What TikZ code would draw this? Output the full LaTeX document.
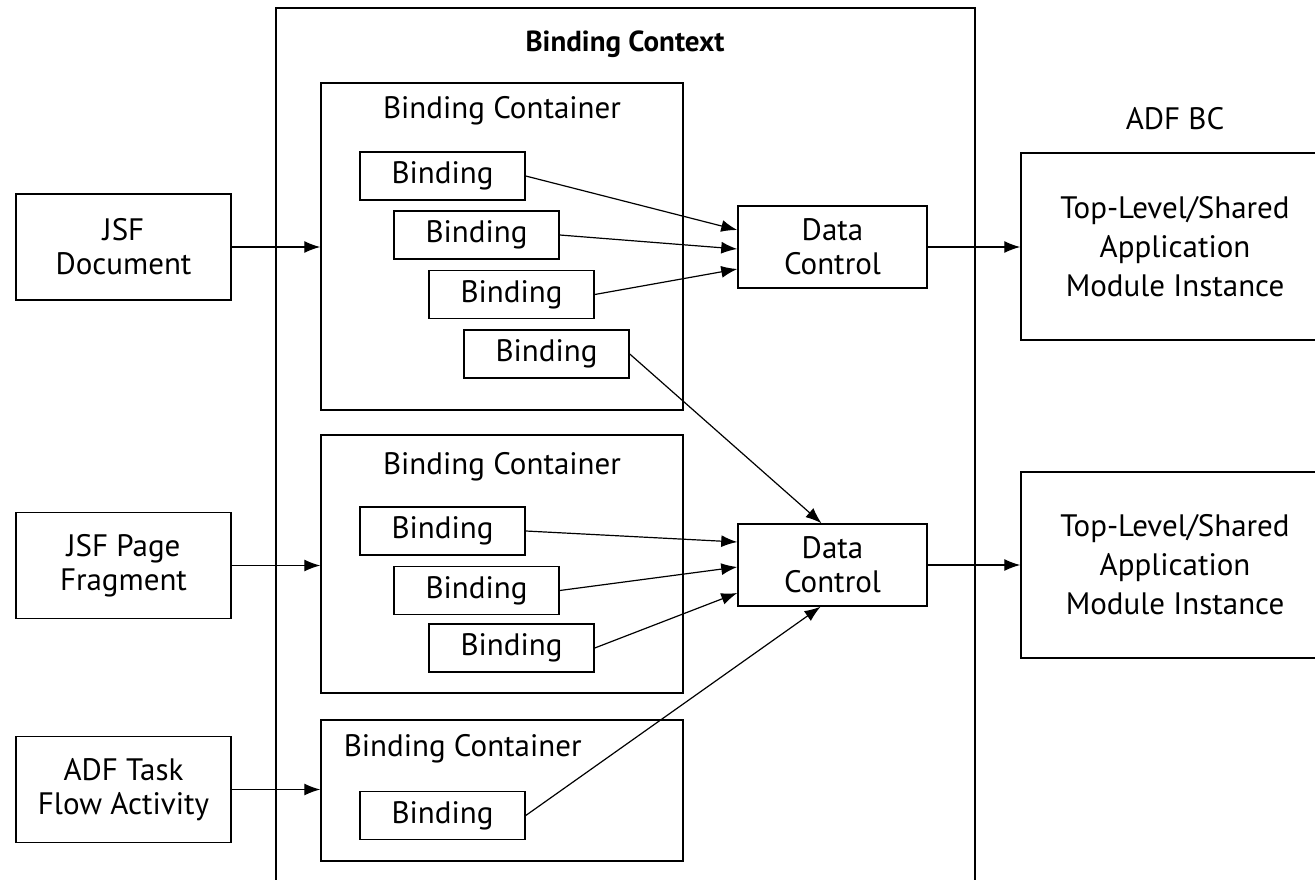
\documentclass[tikz,border=0pt]{standalone}
\usepackage{fontspec}
\setmainfont{PT Sans}
\usetikzlibrary{arrows.meta}

\begin{document}
\begin{tikzpicture}[x=1pt,y=-1pt,line width=1.5pt,
	box/.style={draw,inner sep=0pt,align=center,font=\fontsize{31}{34}\selectfont},
	container/.style={draw,inner sep=0pt,minimum width=362pt},
	binding/.style={box,minimum width=165pt,minimum height=48pt},
	dctrl/.style={box,minimum width=189pt,minimum height=82pt},
	source/.style={box,minimum width=215pt,minimum height=106pt},
	appmod/.style={box,minimum width=308pt,font=\fontsize{31}{39}\selectfont},
	title/.style={font=\fontsize{31}{34}\selectfont},
	link/.style={-{Latex[length=16pt,width=12pt]},line width=1.2pt}]
	\useasboundingbox (0,0) rectangle (1315,880);

	% binding context and its containers
	\node[draw,minimum width=699pt,minimum height=876pt] (ctx) at (625.5,446) {};
	\node[font=\fontsize{29}{34}\selectfont\bfseries] (ctxtitle) at (625,44) {Binding Context};
	\node[container,minimum height=327pt] (cont1) at (502,246.5) {};
	\node[container,minimum height=258pt] (cont2) at (502,564) {};
	\node[container,minimum height=141pt] (cont3) at (502,790.5) {};
	\node[title] (title1) at (502,111) {Binding Container};
	\node[title] (title2) at (502,467) {Binding Container};
	\node[title,anchor=west,inner sep=0pt] (title3) at (343,749) {Binding Container};

	% bindings
	\node[binding] (c1b1) at (442.5,176) {Binding};
	\node[binding] (c1b2) at (476.5,235) {Binding};
	\node[binding] (c1b3) at (511.5,294.5) {Binding};
	\node[binding] (c1b4) at (546.5,354) {Binding};
	\node[binding] (c2b1) at (442.5,531) {Binding};
	\node[binding] (c2b2) at (476.5,590.5) {Binding};
	\node[binding] (c2b3) at (511.5,648) {Binding};
	\node[binding] (c3b1) at (442.5,815.5) {Binding};

	% data controls
	\node[dctrl] (dc1) at (832.5,247) {Data\\Control};
	\node[dctrl] (dc2) at (832.5,565) {Data\\Control};

	% sources on the left
	\node[source] (doc) at (123.5,247) {JSF\\Document};
	\node[source] (frag) at (123.5,565.5) {JSF Page\\Fragment};
	\node[source] (task) at (123.5,789.5) {ADF Task\\Flow Activity};

	% ADF BC
	\node[title] (adfbc) at (1175,119) {ADF BC};
	\node[appmod,minimum height=187pt] (am1) at (1175,246.5) {Top-Level/Shared\\Application\\Module Instance};
	\node[appmod,minimum height=186pt] (am2) at (1175,565) {Top-Level/Shared\\Application\\Module Instance};

	% connectors
	\draw[link] (doc.east) -- (doc.east -| cont1.west);
	\draw[link] (frag.east) -- (frag.east -| cont2.west);
	\draw[link] (task.east) -- (task.east -| cont3.west);
	\draw[link] (dc1.east) -- (dc1.east -| am1.west);
	\draw[link] (dc2.east) -- (dc2.east -| am2.west);
	\draw[link] (c1b1.east) -- ([yshift=17pt]dc1.west);
	\draw[link] (c1b2.east) -- ([yshift=-2pt]dc1.west);
	\draw[link] (c1b3.east) -- ([yshift=-22pt]dc1.west);
	\draw[link] (c1b4.east) -- ([xshift=-11pt]dc2.north);
	\draw[link] (c2b1.east) -- ([yshift=23pt]dc2.west);
	\draw[link] (c2b2.east) -- ([yshift=-2pt]dc2.west);
	\draw[link] (c2b3.east) -- ([yshift=-28pt]dc2.west);
	\draw[link] (c3b1.east) -- ([xshift=-12pt]dc2.south);
\end{tikzpicture}
\end{document}
